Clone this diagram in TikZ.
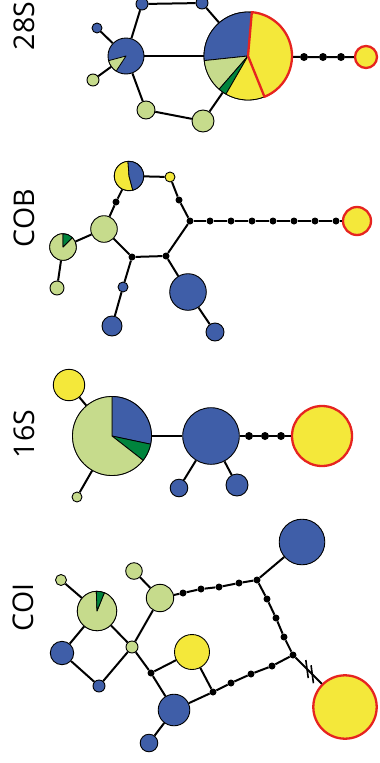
\documentclass[tikz,border=0pt]{standalone}
\usepackage{fontspec}
\setmainfont{Open Sans}
\usetikzlibrary{calc}
\definecolor{hblue}{HTML}{3F5EA8}
\definecolor{hlg}{HTML}{C6DB8C}
\definecolor{hdg}{HTML}{00843D}
\definecolor{hyel}{HTML}{F4E83A}
\definecolor{hred}{HTML}{E62420}
\newcommand{\pslice}[5]{\filldraw[fill=#5,draw=black,line width=0.8pt,line join=round] (#1.center) -- ++(#3:#2pt) arc[start angle=#3, end angle=#4, radius=#2pt] -- cycle;}
\begin{document}
\begin{tikzpicture}[x=1pt,y=1pt,
  hap/.style={circle,draw=black,line width=0.9pt,inner sep=0pt,minimum size={2*(#1)*1pt}},
  bh/.style={hap=#1,fill=hblue},
  gh/.style={hap=#1,fill=hlg},
  yh/.style={hap=#1,fill=hyel},
  rh/.style={hap=#1,fill=hyel,draw=hred,line width=2.3pt},
  ph/.style={hap=#1},
  dot/.style={circle,fill=black,inner sep=0pt,minimum size=8pt},
  jdot/.style={circle,fill=black,inner sep=0pt,minimum size=7pt},
  edge/.style={line width=2pt},
  lbl/.style={rotate=90,font=\fontsize{28.5}{28.5}\selectfont,inner sep=0pt}]
\useasboundingbox (0,0) rectangle (380,-763);
\clip (0,0) rectangle (380,-763);
% ---------------- labels
\node[lbl] (t28) at (24,-26) {28S};
\node[lbl] (tcob) at (24,-218) {COB};
\node[lbl] (t16) at (24,-434) {16S};
\node[lbl] (tcoi) at (23,-607.5) {COI};
% ---------------- 28S
\node[ph=44] (p28) at (248,-56) {};
\node[bh=18] (l28) at (126,-56) {};
\node[bh=5] (b28a) at (97,-28) {};
\node[gh=6] (g28a) at (93,-80) {};
\node[bh=6] (b28t) at (142,-4) {};
\node[bh=6] (b28u) at (202,-3) {};
\node[gh=9] (g28b) at (146,-110) {};
\node[gh=11] (g28c) at (203,-121) {};
\node[dot] (d28a) at (304,-57) {};
\node[dot] (d28b) at (323,-57) {};
\node[dot] (d28c) at (341,-57) {};
\node[rh=11] (y28) at (366,-57) {};
\draw[edge] (l28) -- (p28);
\draw[edge] (l28) -- (b28a);
\draw[edge] (l28) -- (g28a);
\draw[edge] (l28) -- (b28t);
\draw[edge] (b28t) -- (b28u);
\draw[edge] (b28u) -- (p28);
\draw[edge] (l28) -- (g28b);
\draw[edge] (g28b) -- (g28c);
\draw[edge] (g28c) -- (p28);
\draw[edge] (p28) -- (d28a) -- (d28b) -- (d28c) -- (y28);
\pslice{p28}{44}{85}{186}{hblue}
\pslice{p28}{44}{186}{229}{hlg}
\pslice{p28}{44}{229}{240}{hdg}
\pslice{p28}{44}{240}{292}{hyel}
\filldraw[fill=hyel,draw=hred,line width=2.3pt,line join=round] (p28.center) -- ++(-68:44pt) arc[start angle=-68, end angle=85, radius=44pt] -- cycle;
\pslice{l28}{18}{195}{237}{hlg}
% ---------------- COB
\node[ph=14.7] (c1) at (129,-176) {};
\node[yh=5] (csy) at (170,-177) {};
\node[jdot] (cd1) at (179,-200) {};
\node[jdot] (cj) at (190,-221) {};
\node[jdot] (cd2) at (116,-202) {};
\node[gh=13.3] (cg1) at (104,-229) {};
\node[ph=13.3] (cg2) at (63,-247) {};
\node[gh=7] (cg3) at (57,-288) {};
\node[jdot] (cd3) at (132,-257) {};
\node[jdot] (cd4) at (166,-256) {};
\node[jdot] (ce1) at (210,-221) {};
\node[jdot] (ce2) at (231,-221) {};
\node[jdot] (ce3) at (252,-221) {};
\node[jdot] (ce4) at (273,-221) {};
\node[jdot] (ce5) at (294,-221) {};
\node[jdot] (ce6) at (315,-221) {};
\node[jdot] (ce7) at (336,-221) {};
\node[rh=14] (cy) at (357,-221) {};
\node[bh=5] (cb1) at (123,-287) {};
\node[bh=10] (cb2) at (112,-326) {};
\node[bh=18.3] (cb3) at (188,-292) {};
\node[bh=9] (cb4) at (215,-332) {};
\draw[edge] (c1) -- (csy) -- (cd1) -- (cj);
\draw[edge] (c1) -- (cd2) -- (cg1);
\draw[edge] (cg1) -- (cg2);
\draw[edge] (cg2) -- (cg3);
\draw[edge] (cg1) -- (cd3) -- (cd4) -- (cj);
\draw[edge] (cj) -- (ce1) -- (ce2) -- (ce3) -- (ce4) -- (ce5) -- (ce6) -- (ce7) -- (cy);
\draw[edge] (cd3) -- (cb1) -- (cb2);
\draw[edge] (cd4) -- (cb3) -- (cb4);
\pslice{c1}{14.7}{94}{285}{hyel}
\pslice{c1}{14.7}{-75}{94}{hblue}
\pslice{cg2}{13.3}{90}{405}{hlg}
\pslice{cg2}{13.3}{45}{90}{hdg}
% ---------------- 16S
\node[ph=39.5] (s1) at (112,-436) {};
\node[yh=15.7] (sy1) at (69,-385) {};
\node[gh=5] (sg) at (77,-497) {};
\node[bh=28.3] (sb) at (211,-436) {};
\node[dot] (sd1) at (249,-436) {};
\node[dot] (sd2) at (265,-436) {};
\node[dot] (sd3) at (281,-436) {};
\node[rh=30] (sy2) at (322,-436) {};
\node[bh=8.8] (sb1) at (179,-488) {};
\node[bh=11] (sb2) at (237,-485) {};
\draw[edge] (s1) -- (sy1);
\draw[edge] (s1) -- (sg);
\draw[edge] (s1) -- (sb);
\draw[edge] (sb) -- (sd1) -- (sd2) -- (sd3) -- (sy2);
\draw[edge] (sb) -- (sb1);
\draw[edge] (sb) -- (sb2);
\pslice{s1}{39.5}{-12}{90}{hblue}
\pslice{s1}{39.5}{-38}{-12}{hdg}
\pslice{s1}{39.5}{90}{322}{hlg}
% ---------------- COI
\node[bh=22.8] (ob1) at (302,-542) {};
\node[jdot] (oj1) at (257,-580) {};
\node[gh=13.7] (og1) at (160,-598) {};
\node[jdot] (oc1) at (183,-593) {};
\node[jdot] (oc2) at (201,-589) {};
\node[jdot] (oc3) at (219,-587) {};
\node[jdot] (oc4) at (239,-583) {};
\node[jdot] (ov1) at (267,-599) {};
\node[jdot] (ov2) at (276,-618) {};
\node[jdot] (ov3) at (284,-637) {};
\node[jdot] (oj2) at (293,-655) {};
\node[rh=31.7] (oy1) at (345,-707) {};
\node[jdot] (ow1) at (272,-666) {};
\node[jdot] (ow2) at (251,-674) {};
\node[jdot] (ow3) at (231,-683) {};
\node[jdot] (od) at (213,-692) {};
\node[bh=15.8] (ob2) at (174,-710) {};
\node[yh=17.5] (oy2) at (192,-652) {};
\node[bh=8.8] (ob3) at (149,-743) {};
\node[jdot] (od2) at (151,-673) {};
\node[gh=6] (og2) at (132,-647) {};
\node[gh=8.3] (og3) at (134,-571) {};
\node[ph=19.7] (op) at (97,-611) {};
\node[gh=5.5] (og4) at (61,-580) {};
\node[bh=11.7] (ob4) at (62,-653) {};
\node[bh=6] (ob5) at (99,-686) {};
\draw[edge] (ob1) -- (oj1);
\draw[edge] (og1) -- (oc1) -- (oc2) -- (oc3) -- (oc4) -- (oj1);
\draw[edge] (oj1) -- (ov1) -- (ov2) -- (ov3) -- (oj2);
\draw[edge] (oj2) -- (oy1);
\draw[edge] (oj2) -- (ow1) -- (ow2) -- (ow3) -- (od);
\draw[edge] (od) -- (ob2);
\draw[edge] (oy2) -- (od);
\draw[edge] (oy2) -- (od2);
\draw[edge] (od2) -- (ob2);
\draw[edge] (ob2) -- (ob3);
\draw[edge] (og1) -- (og2);
\draw[edge] (og2) -- (od2);
\draw[edge] (og1) -- (og3);
\draw[edge] (op) -- (og4);
\draw[edge] (op) -- (og2);
\draw[edge] (op) -- (ob4);
\draw[edge] (ob4) -- (ob5) -- (og2);
\draw[line width=1.6pt] ($(oj2)!0.27!(oy1)$) +(-1.2,9) -- +(1.2,-9);
\draw[line width=1.6pt] ($(oj2)!0.37!(oy1)$) +(-1.2,9) -- +(1.2,-9);
\pslice{op}{19.7}{92}{428}{hlg}
\pslice{op}{19.7}{68}{92}{hdg}
\end{tikzpicture}
\end{document}
